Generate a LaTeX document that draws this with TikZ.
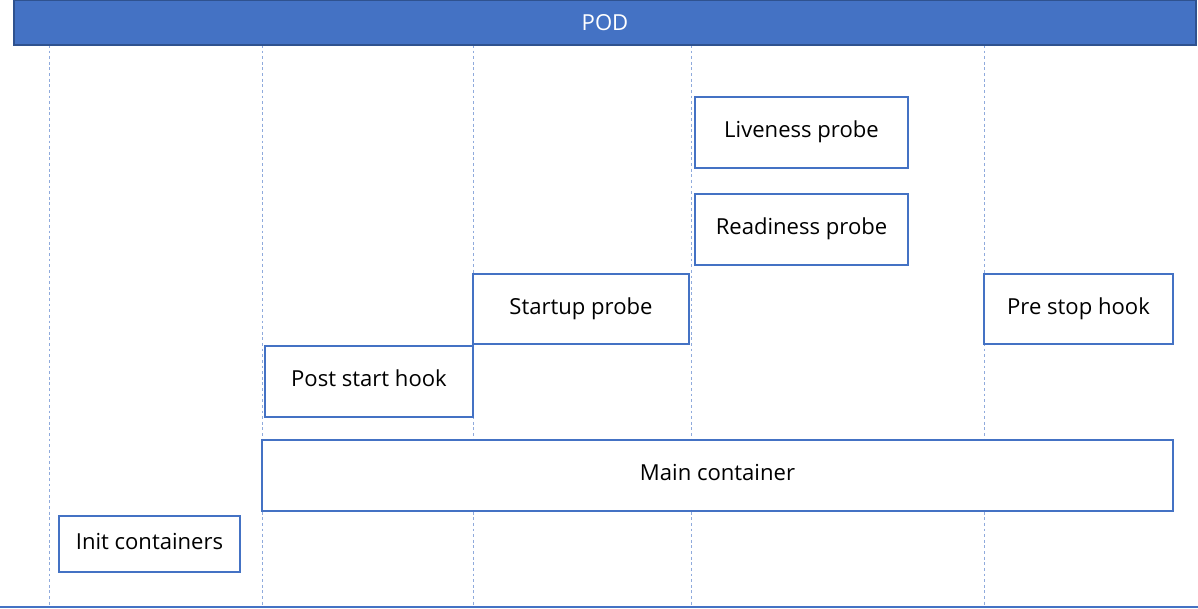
\documentclass[tikz,border=0pt]{standalone}
\usepackage{fontspec}
\setmainfont{Open Sans}
\usetikzlibrary{positioning}
\definecolor{podblue}{HTML}{4472C4}
\definecolor{podedge}{HTML}{2F528F}
\definecolor{lanecol}{HTML}{8FAADC}

\begin{document}
\begin{tikzpicture}[
  font=\fontsize{15.7}{18}\selectfont,
  stage/.style={rectangle, draw=podblue, fill=white, line width=0.8pt,
                minimum width=#1, minimum height=1.775cm, inner sep=0pt,
                text height=1em, text depth=0.25em},
  lane/.style={draw=lanecol, dashed, line width=0.6pt, dash pattern=on 2pt off 2pt},
]
\useasboundingbox (0,0) rectangle (29.95,-15.225);

% ================= LANES =================
\foreach \lx/\lname in {1.225/a, 6.55/b, 11.825/c, 17.275/d, 24.6/e} {
  \coordinate (top\lname) at (\lx,-1.125);
  \coordinate (bot\lname) at (\lx,-15.175);
  \draw[lane] (top\lname) -- (bot\lname);
}
\coordinate (baseL) at (0,-15.175);
\coordinate (baseR) at (29.95,-15.175);
\draw[podblue, line width=0.8pt] (baseL) -- (baseR);

% ================= NODES (explicit coords, cm) =================
\node[rectangle, draw=podedge, fill=podblue, line width=0.8pt, text=white,
      minimum width=29.55cm, minimum height=1.125cm, inner sep=0pt]
                              (pod)       at (15.125,-0.5625)  {POD};

\node[stage=5.325cm]          (liveness)  at (20.0375,-3.3125) {Liveness probe};
\node[stage=5.325cm]          (readiness) at (20.0375,-5.7375) {Readiness probe};
\node[stage=5.4cm, minimum height=1.75cm]
                              (startup)   at (14.525,-7.725)   {Startup probe};
\node[stage=4.725cm, minimum height=1.75cm]
                              (prestop)   at (26.9625,-7.725)  {Pre stop hook};
\node[stage=5.2cm]            (poststart) at (9.225,-9.5375)   {Post start hook};
\node[stage=22.775cm]         (main)      at (17.9375,-11.8875){Main container};
\node[stage=4.525cm, minimum height=1.4cm]
                              (init)      at (3.7375,-13.6)    {Init containers};

\end{tikzpicture}
\end{document}
